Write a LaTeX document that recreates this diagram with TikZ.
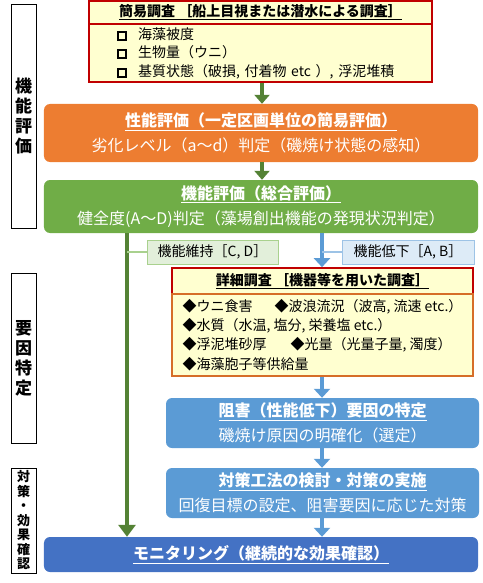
\documentclass[tikz,border=0pt]{standalone}
\usepackage{fontspec}
\setmainfont{Noto Sans CJK JP}
\usepackage{tikz}
\usetikzlibrary{arrows.meta}
\definecolor{surveyred}{RGB}{192, 0, 0}
\definecolor{surveyfill}{RGB}{255, 255, 208}
\definecolor{detailline}{RGB}{214, 110, 40}
\definecolor{perforange}{RGB}{237, 125, 49}
\definecolor{funcgreen}{RGB}{112, 173, 71}
\definecolor{arrowgreen}{RGB}{84, 130, 53}
\definecolor{causeblue}{RGB}{91, 155, 213}
\definecolor{monitorblue}{RGB}{68, 114, 196}
\definecolor{keepfill}{RGB}{226, 239, 218}
\definecolor{keepline}{RGB}{169, 209, 142}
\definecolor{dropfill}{RGB}{221, 235, 247}
\definecolor{dropline}{RGB}{157, 195, 230}
\newcommand{\boxtitle}[1]{\textbf{\underline{#1}}}
\newcommand{\chkbox}{\raisebox{0.5bp}{\setlength{\fboxrule}{2bp}\setlength{\fboxsep}{0pt}\fbox{\rule{0pt}{6bp}\hspace{6bp}}}}

\begin{document}
\begin{tikzpicture}[x=1bp, y=-1bp,
  survey/.style={draw=surveyred, line width=1.6bp, fill=surveyfill, inner sep=0pt,
    align=center, font=\fontsize{14bp}{18bp}\selectfont},
  surveylist/.style={draw=surveyred, line width=1.6bp, fill=surveyfill, inner xsep=28bp,
    inner ysep=0pt, align=left, font=\fontsize{14bp}{18.5bp}\selectfont},
  detaillist/.style={draw=detailline, line width=1.6bp, fill=surveyfill, inner sep=0pt,
    align=left, font=\fontsize{14bp}{19.3bp}\selectfont},
  stagebox/.style={rounded corners=6bp, inner sep=0pt, align=center, text=white,
    font=\fontsize{16bp}{24.5bp}\selectfont},
  tagbox/.style={draw, line width=1bp, inner sep=0pt, minimum height=24bp, align=center,
    font=\fontsize{14bp}{16bp}\selectfont},
  sidelabel/.style={draw, line width=1bp, fill=white, minimum width=25bp, inner sep=0pt,
    align=center},
  garrow/.style={draw=arrowgreen, line width=4.5bp, -{Triangle[width=15bp,length=9bp]}},
  glong/.style={draw=arrowgreen, line width=3.5bp, -{Triangle[width=17bp,length=12bp]}},
  barrow/.style={draw=causeblue, line width=3.5bp, -{Triangle[width=16bp,length=9bp]}},
  tieline/.style={line width=1.2bp}
]
\useasboundingbox (0,0) rectangle (483,583);

% phase labels on the left
\node[sidelabel, minimum height=223bp, font=\bfseries\fontsize{17bp}{20bp}\selectfont]
  (phase1) at (23.5,116.5) {機\\能\\評\\価};
\node[sidelabel, minimum height=170bp, font=\bfseries\fontsize{17bp}{20bp}\selectfont]
  (phase2) at (23.5,358) {要\\因\\特\\定};
\node[sidelabel, minimum height=105bp, font=\bfseries\fontsize{13bp}{14.5bp}\selectfont]
  (phase3) at (23.5,520.5) {対\\策\\・\\効\\果\\確\\認};

% simple survey
\node[survey, minimum width=343bp, minimum height=23bp] (kanni) at (260.5,12.5)
  {\boxtitle{簡易調査\ ［船上目視または潜水による調査］}};
\node[surveylist, text width=287bp, minimum height=58bp] (kanniitems) at (260.5,53)
  {\chkbox\hspace{11bp}海藻被度\\
   \chkbox\hspace{11bp}生物量（ウニ）\\
   \chkbox\hspace{11bp}基質状態（破損, 付着物 etc ）, 浮泥堆積};

% evaluation stages
\node[stagebox, fill=perforange, minimum width=434bp, minimum height=58bp] (seino) at (261,133)
  {\boxtitle{性能評価（一定区画単位の簡易評価）}\\
   劣化レベル（a～d）判定（磯焼け状態の感知）};
\node[stagebox, fill=funcgreen, minimum width=434bp, minimum height=53bp] (kino) at (261,206.5)
  {\boxtitle{機能評価（総合評価）}\\
   健全度(A～D)判定（藻場創出機能の発現状況判定）};

% branch tags
\node[tagbox, draw=keepline, fill=keepfill, minimum width=131bp] (iji) at (212.5,252)
  {機能維持［C, D］};
\node[tagbox, draw=dropline, fill=dropfill, minimum width=132bp] (teika) at (408,252)
  {機能低下［A, B］};

% detailed survey
\node[survey, minimum width=301bp, minimum height=26bp] (shosai) at (322.5,281)
  {\boxtitle{詳細調査\ ［機器等を用いた調査］}};
\node[detaillist, minimum width=301bp, minimum height=82bp] (shosaiitems) at (322.5,335)
  {\makebox[92bp][l]{◆ウニ食害}◆波浪流況（波高, 流速 etc.）\\
   ◆水質（水温, 塩分, 栄養塩 etc.）\\
   \makebox[108bp][l]{◆浮泥堆砂厚}◆光量（光量子量, 濁度）\\
   ◆海藻胞子等供給量};

% cause and countermeasure
\node[stagebox, fill=causeblue, minimum width=313bp, minimum height=50bp] (sogai) at (322.5,423)
  {\boxtitle{阻害（性能低下）要因の特定}\\
   磯焼け原因の明確化（選定）};
\node[stagebox, fill=causeblue, minimum width=313bp, minimum height=50bp] (taisaku) at (322.5,493)
  {\boxtitle{対策工法の検討・対策の実施}\\
   回復目標の設定、阻害要因に応じた対策};
\node[stagebox, fill=monitorblue, minimum width=434bp, minimum height=35bp] (monitor) at (261,554.5)
  {\boxtitle{モニタリング（継続的な効果確認）}};

% connectors
\coordinate (ax) at (262,0);
\coordinate (gx) at (127,0);
\coordinate (bx) at (322,0);
\draw[garrow] (kanniitems.south -| ax) -- (seino.north -| ax);
\draw[garrow] (seino.south -| ax) -- (kino.north -| ax);
\draw[glong] (kino.south -| gx) -- (monitor.north -| gx);
\draw[barrow] (kino.south -| bx) -- (shosai.north -| bx);
\draw[tieline, keepline] (iji.west) -- (iji.west -| gx);
\draw[tieline, dropline] (teika.west) -- (teika.west -| bx);
\draw[barrow] (shosaiitems.south -| bx) -- (sogai.north -| bx);
\draw[barrow] (sogai.south -| bx) -- (taisaku.north -| bx);
\draw[barrow] (taisaku.south -| bx) -- (monitor.north -| bx);
\end{tikzpicture}
\end{document}
